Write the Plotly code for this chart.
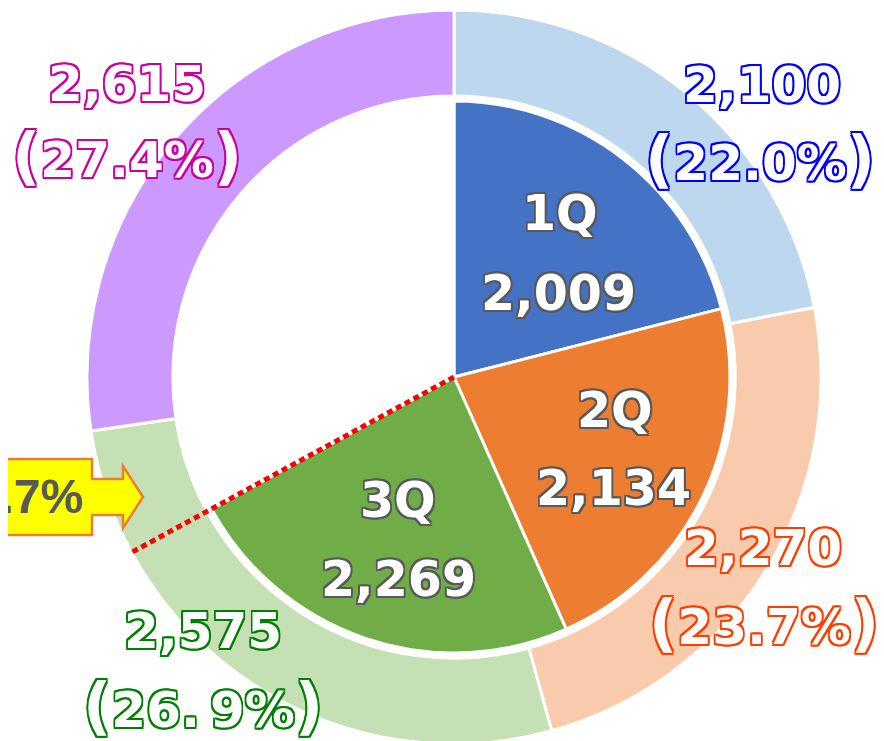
import math
import plotly.graph_objects as go

# data
outer_values = [2100, 2270, 2575, 2615]
outer_colors = ["#BDD7EE", "#F8CBAD", "#C5E0B4", "#CC99FF"]
outer_text_colors = ["#0000FF", "#FF3D00", "#008000", "#CC00A0"]
pct_labels = ["22.0%", "23.7%", "26.\u20099%", "27.4%"]

quarters = ["1Q", "2Q", "3Q"]
inner_values = [2009, 2134, 2269]
inner_colors = ["#4472C4", "#ED7D31", "#70AD47"]
callout_text = "67.7%"

# page has an 8px body margin, so positions below are window pixels minus OFF
OFF = 8
W, H = 884, 760
total = sum(outer_values)
blank = total - sum(inner_values)

cx, cy = 454, 377     # window pixels
R = 367
hole = 0.766
r_in = 276

def px(x):
    return (x - OFF) / W

def py(y):
    return 1 - (y - OFF) / H

def outline(color, w=1.5):
    offs = [(w, 0), (-w, 0), (0, w), (0, -w), (w, w), (-w, -w), (w, -w), (-w, w)]
    return ", ".join(f"{dx}px {dy}px 0 {color}" for dx, dy in offs)

FONT = "DejaVu Sans"

fig = go.Figure()

fig.add_trace(go.Pie(
    values=outer_values,
    marker=dict(colors=outer_colors, line=dict(color="white", width=3)),
    hole=hole, sort=False, direction="clockwise", rotation=0,
    textinfo="none", hoverinfo="skip", showlegend=False,
    domain=dict(x=[px(cx - R), px(cx + R)], y=[py(cy + R), py(cy - R)]),
))

fig.add_trace(go.Pie(
    values=inner_values + [blank],
    marker=dict(colors=inner_colors + ["white"], line=dict(color="white", width=3)),
    sort=False, direction="clockwise", rotation=0,
    textinfo="none", hoverinfo="skip", showlegend=False,
    domain=dict(x=[px(cx - r_in), px(cx + r_in)], y=[py(cy + r_in), py(cy - r_in)]),
))

annotations = []

# outer labels: value line and percent line
paren = '<span style="font-size:62px">{}</span>'
outer_pos = [((762, 85), (760, 158)), ((763, 548), (764, 622)),
             ((203, 631), (203, 705)), ((127, 84), (127, 155))]
for v, pl, c, (p1, p2) in zip(outer_values, pct_labels, outer_text_colors, outer_pos):
    pct_txt = paren.format("(") + pl + paren.format(")")
    for txt, (x, y) in ((f"{v:,}", p1), (pct_txt, p2)):
        annotations.append(dict(
            x=px(x), y=py(y), xref="paper", yref="paper", text=txt, showarrow=False,
            xanchor="center", yanchor="middle",
            font=dict(family=FONT, size=50, color="white", weight="bold", shadow=outline(c, 1.7)),
        ))

# inner labels
inner_pos = [((560, 213), (558, 293)), ((615, 410), (613, 488)), ((398, 500), (398, 579))]
for q, v, (p1, p2) in zip(quarters, inner_values, inner_pos):
    for txt, (x, y) in ((q, p1), (f"{v:,}", p2)):
        annotations.append(dict(
            x=px(x), y=py(y), xref="paper", yref="paper", text=txt, showarrow=False,
            xanchor="center", yanchor="middle",
            font=dict(family=FONT, size=49, color="white", weight="bold", shadow=outline("#595959", 1.8)),
        ))

# callout arrow
pts = [(-30, 459), (92, 459), (92, 479), (123, 479), (123, 466), (143, 497),
       (123, 528), (123, 515), (92, 515), (92, 535), (-30, 535)]
path = "M " + " L ".join(f"{px(x):.5f},{py(y):.5f}" for x, y in pts) + " Z"

shapes = [dict(type="path", path=path, xref="paper", yref="paper",
               fillcolor="#FFFF00", line=dict(color="#ED7D31", width=2.5))]

annotations.append(dict(
    x=px(85), y=py(497), xref="paper", yref="paper", text=callout_text, showarrow=False,
    xanchor="right", yanchor="middle",
    font=dict(family="Liberation Sans", size=48, color="#595959", weight="bold"),
))

# red dotted line at the end of 3Q
ang = math.radians(sum(inner_values) / total * 360)
L = R
shapes.append(dict(
    type="line", xref="paper", yref="paper",
    x0=px(cx), y0=py(cy),
    x1=px(cx + L * math.sin(ang)), y1=py(cy - L * math.cos(ang)),
    line=dict(color="#FF0000", width=5, dash="6px,4px"),
))

fig.update_layout(
    width=W, height=H,
    margin=dict(l=0, r=0, t=0, b=0),
    paper_bgcolor="white", plot_bgcolor="white",
    annotations=annotations, shapes=shapes,
)

fig.write_html("out.html")
